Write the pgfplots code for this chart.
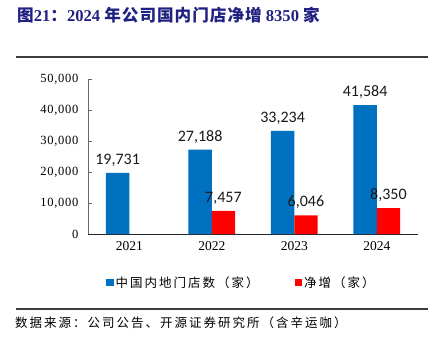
\documentclass[border=0pt]{standalone}
\usepackage{pgfplots}
\pgfplotsset{compat=1.18}
\usepackage{fontspec}
\setmainfont{Liberation Serif}
\newfontfamily\cjk{Noto Sans CJK SC}
\newfontfamily\cjklegend[LetterSpace=16]{Noto Sans CJK SC}
\newfontfamily\cjksrc[LetterSpace=16]{Noto Sans CJK SC}
\newfontfamily\cjktitle[LetterSpace=6]{Noto Sans CJK SC}
\newfontfamily\titlenum{Liberation Serif}
\newfontfamily\tickfont[LetterSpace=6]{Liberation Serif}
\newfontfamily\labfont{Carlito}
\definecolor{barblue}{HTML}{0070C0}
\definecolor{barred}{HTML}{FF0000}
\definecolor{titleblue}{RGB}{33,33,130}
\definecolor{rulegray}{RGB}{60,60,60}
\begin{document}
\begin{tikzpicture}[x=1bp,y=1bp]
\path[use as bounding box] (0,0) rectangle (444,343);
\node[anchor=west, inner sep=0, text=titleblue] at (17,328)
  {\fontsize{16.6bp}{19bp}\selectfont\bfseries\cjktitle 图\titlenum\bfseries 21\cjktitle\bfseries ：\titlenum\bfseries 2024 \cjktitle\bfseries 年公司国内门店净增\titlenum\bfseries{} 8350 \cjktitle\bfseries 家};
\draw[rulegray, line width=1.3bp] (16,286) -- (428,286);
\draw[rulegray, line width=1.3bp] (16,34) -- (428,34);
\node[anchor=west, inner sep=0] at (15,20)
  {\fontsize{12.5bp}{14bp}\selectfont\cjksrc 数据来源：公司公告、开源证券研究所（含辛运咖）};
\begin{axis}[
  at={(88bp,109bp)}, anchor=south west,
  scale only axis, width=330bp, height=155bp,
  ybar=0pt, bar width=23.3bp,
  xmin=-0.5, xmax=3.5, ymin=0, ymax=50000,
  axis lines=left,
  axis line style={-, draw=gray!80!black, line width=0.8bp},
  x axis line style={draw=black!85},
  xtick={0,1,2,3},
  xticklabels={2021,2022,2023,2024},
  major x tick style={draw=none},
  extra x ticks={0.5,1.5,2.5,3.5},
  extra x tick labels={},
  extra x tick style={tick style={draw=gray!80!black, line width=0.6bp}, major tick length=4bp},
  ytick={0,10000,20000,30000,40000,50000},
  y tick style={draw=gray!80!black, line width=0.8bp},
  tick align=inside,
  major tick length=4bp,
  scaled y ticks=false,
  /pgf/number format/fixed,
  /pgf/number format/1000 sep={,},
  /pgf/number format/assume math mode=true,
  yticklabel style={font=\fontsize{12.5bp}{14bp}\selectfont\tickfont, xshift=-6bp},
  xticklabel style={font=\fontsize{13.5bp}{15bp}\selectfont, yshift=-4bp},
  nodes near coords,
  nodes near coords style={font=\fontsize{16bp}{18bp}\selectfont\labfont, text=black!90},
  every node near coord/.append style={yshift=3bp},
  legend columns=2,
  legend style={draw=none, fill=none, at={(0.045,-0.316)}, anchor=west,
    font=\fontsize{12.5bp}{14bp}\selectfont\cjklegend,
    /tikz/every even column/.append style={column sep=34bp}},
  legend image code/.code={\fill[#1, draw=none] (0bp,-3.5bp) rectangle (7.5bp,4bp);},
]
\addplot[fill=barblue, draw=none] coordinates {(0,19731) (1,27188) (2,33234) (3,41584)};
\addlegendentry{中国内地门店数（家）}
\addplot[fill=barred, draw=none] coordinates {(1,7457) (2,6046) (3,8350)};
\addlegendentry{净增（家）}
\end{axis}
\end{tikzpicture}
\end{document}
